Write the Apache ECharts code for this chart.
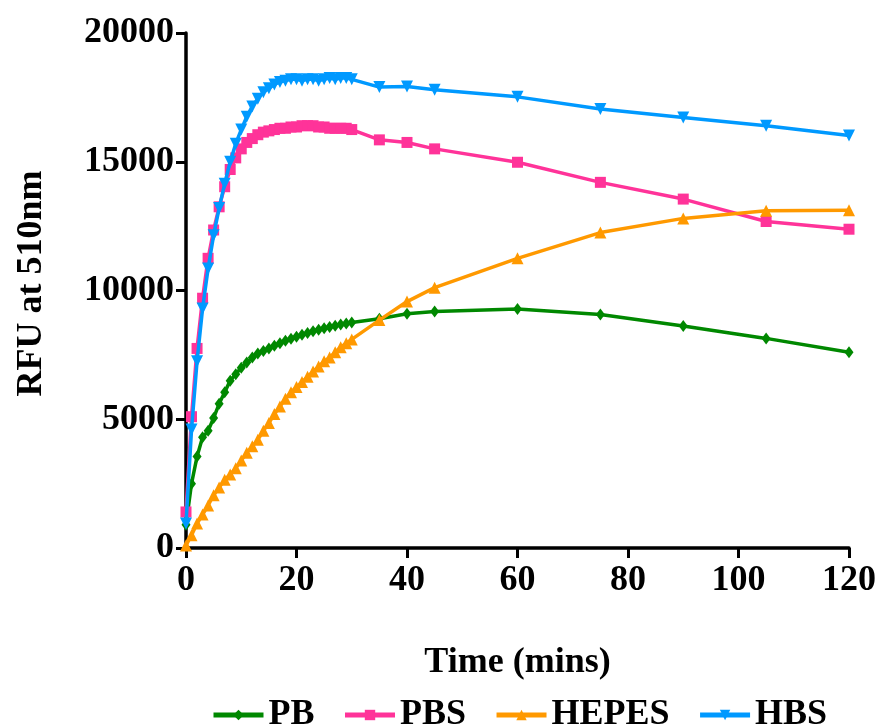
<!DOCTYPE html>
<html>
<head>
<meta charset="utf-8">
<script src="https://cdn.jsdelivr.net/npm/echarts@6/dist/echarts.min.js"></script>
<style>
html,body{margin:0;padding:0;background:#fff;}
#chart{width:880px;height:726px;}
</style>
</head>
<body>
<div id="chart"></div>
<script>
const times = [0,1,2,3,4,5,6,7,8,9,10,11,12,13,14,15,16,17,18,19,20,21,22,23,24,25,26,27,28,29,30,35,40,45,60,75,90,105,120];
const seriesNames = ['PB','PBS','HEPES','HBS'];
const pb = [900,2500,3550,4300,4550,5050,5600,6050,6500,6750,7000,7200,7400,7550,7650,7750,7850,7950,8050,8130,8200,8280,8350,8420,8480,8530,8580,8630,8680,8720,8760,8900,9100,9180,9280,9070,8620,8140,7600];
const pbs = [1400,5100,7750,9700,11250,12350,13250,14030,14700,15150,15500,15750,15900,16050,16150,16200,16250,16300,16300,16350,16350,16400,16400,16400,16350,16350,16300,16300,16300,16300,16250,15850,15750,15500,14980,14200,13550,12680,12380];
const hepes = [100,500,950,1300,1650,2050,2350,2650,2850,3100,3400,3700,3950,4200,4550,4850,5200,5500,5800,6050,6250,6450,6650,6850,7050,7250,7400,7600,7800,7950,8100,8850,9570,10110,11250,12250,12800,13100,13120];
const hbs = [950,4600,7250,9300,10850,12150,13200,14150,15000,15700,16250,16750,17150,17450,17700,17850,18000,18100,18150,18200,18200,18150,18200,18200,18150,18200,18250,18200,18250,18250,18200,17900,17920,17800,17520,17050,16720,16400,16020];

const font = 'Liberation Serif, Times New Roman, serif';
const colors = ['#008800','#ff3399','#ff9900','#0099ff'];
const symbols = ['diamond','rect','triangle','path://M0,0 L10,0 L5,10 Z'];
const sizes = [[9,12],11,12,12];
const values = [pb,pbs,hepes,hbs];

const chart = echarts.init(document.getElementById('chart'), null, {renderer:'canvas'});
chart.setOption({
  animation:false,
  backgroundColor:'#ffffff',
  grid:{left:186,right:31,top:33,bottom:178,containLabel:false},
  legend:{
    top:692,left:206,
    itemWidth:50,itemHeight:13,itemGap:28,
    lineStyle:{width:5},
    textStyle:{fontFamily:font,fontWeight:'bold',fontSize:36,color:'#000'},
    data:seriesNames
  },
  xAxis:{
    type:'value',min:0,max:120,interval:20,
    name:'Time (mins)',nameLocation:'middle',nameGap:97,
    nameTextStyle:{fontFamily:font,fontWeight:'bold',fontSize:36,color:'#000'},
    axisLine:{show:true,onZero:false,lineStyle:{color:'#000',width:3.5}},
    axisTick:{show:true,length:10,lineStyle:{color:'#000',width:3}},
    axisLabel:{fontFamily:font,fontWeight:'bold',fontSize:36,color:'#000',margin:15},
    splitLine:{show:false}
  },
  yAxis:{
    type:'value',min:0,max:20000,interval:5000,
    name:'RFU at 510nm',nameLocation:'middle',nameGap:136,
    nameTextStyle:{fontFamily:font,fontWeight:'bold',fontSize:36,color:'#000',padding:[0,0,0,14]},
    axisLine:{show:true,lineStyle:{color:'#000',width:3.5}},
    axisTick:{show:true,length:10,lineStyle:{color:'#000',width:3}},
    axisLabel:{fontFamily:font,fontWeight:'bold',fontSize:36,color:'#000',margin:12,formatter:v=>String(v)},
    splitLine:{show:false}
  },
  series: seriesNames.map((n,i)=>({
    name:n,type:'line',
    data: times.map((t,j)=>[t,values[i][j]]),
    symbol:symbols[i],symbolSize:sizes[i],
    showAllSymbol:true,clip:false,
    lineStyle:{color:colors[i],width:3.5},
    itemStyle:{color:colors[i]},
    z:2+i
  }))
});
</script>
</body>
</html>
